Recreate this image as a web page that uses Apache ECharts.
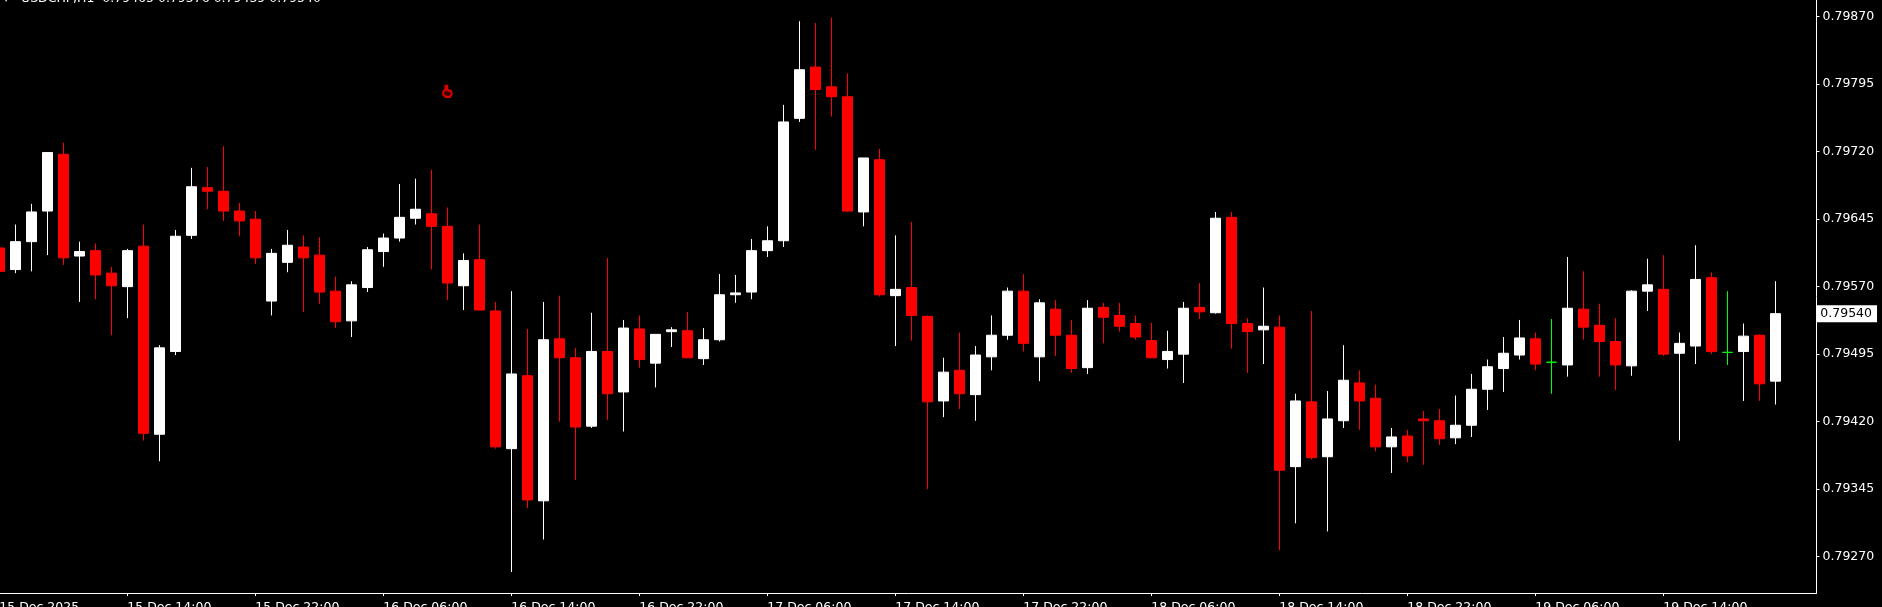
<!DOCTYPE html>
<html><head><meta charset="utf-8">
<style>html,body{margin:0;padding:0;background:#000;overflow:hidden}#c{width:1882px;height:607px}</style>
<script src="https://cdn.jsdelivr.net/npm/echarts@6/dist/echarts.min.js"></script>
</head><body><div id="c"></div>
<script>
// Prices are in points (1 point = 0.00001)
const opens=[79613,79589,79620,79654,79717,79604,79610,79585,79570,79615,79406,79498,79627,79680,79676,79654,79645,79554,79597,79614,79605,79565,79532,79569,79609,79624,79646,79651,79637,79571,79600,79543,79390,79471,79332,79512,79491,79415,79498,79453,79523,79485,79520,79521,79490,79511,79561,79564,79610,79621,79757,79814,79792,79781,79653,79711,79560,79569,79537,79443,79477,79450,79492,79516,79565,79492,79545,79516,79480,79547,79538,79529,79510,79489,79495,79547,79541,79647,79529,79522,79525,79370,79442,79381,79421,79463,79446,79392,79404,79423,79421,79402,79416,79456,79479,79494,79512,79486,79483,79545,79527,79509,79482,79565,79567,79496,79504,79580,79497,79498,79516,79465];
const closes=[79587,79620,79653,79719,79602,79609,79583,79571,79610,79407,79502,79626,79681,79676,79654,79643,79602,79607,79616,79602,79564,79531,79572,79611,79624,79647,79656,79637,79574,79599,79544,79392,79473,79333,79511,79491,79414,79498,79451,79524,79489,79517,79522,79491,79511,79561,79563,79610,79621,79753,79811,79789,79781,79654,79713,79561,79567,79538,79442,79475,79451,79494,79516,79565,79507,79552,79516,79479,79546,79536,79526,79514,79491,79498,79546,79542,79646,79529,79520,79526,79366,79443,79380,79423,79466,79443,79392,79403,79382,79421,79401,79416,79456,79481,79496,79513,79484,79486,79546,79525,79509,79483,79565,79572,79495,79507,79578,79498,79497,79515,79462,79540];
const lows=[79585,79585,79587,79605,79594,79553,79556,79516,79535,79399,79376,79494,79623,79656,79643,79626,79595,79538,79586,79542,79551,79524,79514,79564,79592,79620,79639,79589,79555,79544,79544,79390,79253,79324,79289,79420,79355,79413,79422,79409,79480,79458,79503,79491,79483,79509,79552,79556,79603,79614,79753,79722,79759,79653,79637,79559,79504,79510,79345,79425,79434,79421,79477,79511,79498,79465,79493,79474,79473,79507,79520,79511,79491,79479,79463,79534,79540,79501,79474,79484,79277,79307,79378,79298,79413,79411,79387,79363,79375,79372,79394,79395,79403,79433,79453,79489,79477,79451,79470,79511,79470,79455,79471,79543,79493,79399,79484,79495,79483,79443,79443,79439];
const highs=[79616,79639,79662,79719,79730,79620,79618,79592,79612,79639,79505,79633,79702,79703,79726,79663,79654,79612,79633,79627,79625,79581,79576,79614,79629,79684,79690,79700,79658,79607,79639,79553,79565,79523,79553,79560,79502,79541,79602,79533,79538,79517,79525,79542,79524,79584,79583,79623,79637,79772,79865,79863,79869,79807,79713,79723,79627,79642,79538,79491,79519,79504,79538,79569,79584,79556,79555,79533,79555,79552,79552,79538,79530,79521,79553,79574,79653,79653,79535,79569,79538,79451,79543,79454,79505,79477,79461,79413,79411,79432,79434,79449,79473,79489,79514,79533,79519,79534,79603,79587,79551,79535,79566,79601,79605,79519,79616,79586,79565,79529,79517,79576];
const dojiBars=[97,108];
const priceTicks=[79870,79795,79720,79645,79570,79495,79420,79345,79270];
const lastPrice=79540;
const headerText='USDCHF,H1  0.79465 0.79576 0.79439 0.79540';
const days=['15 Dec','16 Dec','17 Dec','18 Dec','19 Dec'];
const firstHour=6, firstLabel='15 Dec 2025', tickEvery=8, paddingBars=2;
const handMark={bar:28,price:79787};

const categories=[];
for(let i=0;i<opens.length+paddingBars;i++){
  const h=i+firstHour; const d=days[Math.floor(h/24)]||''; const hh=String(h%24).padStart(2,'0');
  categories.push(i===0?firstLabel:d+' '+hh+':00');
}
const candles=opens.map((o,i)=>{
  const v=[o,closes[i],lows[i],highs[i]];
  return dojiBars.includes(i)
    ? {value:v,itemStyle:{color:'#00ff00',color0:'#00ff00',borderColor:'#00ff00',borderColor0:'#00ff00',borderColorDoji:'#00ff00'}}
    : {value:v};
});
const yMin=79229.6,yMax=79888.5;
const font='"DejaVu Sans"';
const fs=12.5;
const chart=echarts.init(document.getElementById('c'),null,{renderer:'canvas'});
chart.setOption({
  animation:false,backgroundColor:'#000',
  title:[
    {text:headerText,left:21,top:-8,padding:0,textStyle:{color:'#fff',fontFamily:font,fontSize:fs,fontWeight:'normal'}},
    {text:'▾',left:3,top:-8,padding:0,textStyle:{color:'#fff',fontFamily:font,fontSize:fs,fontWeight:'normal'}}
  ],
  grid:[{left:-8.67,top:0,width:1824,height:593,outerBoundsMode:'none'},{left:0,top:0,width:1816.5,height:593,outerBoundsMode:'none'}],
  xAxis:[
    {type:'category',gridIndex:0,data:categories,boundaryGap:true,
      axisLine:{show:false},splitLine:{show:false},
      axisTick:{show:true,alignWithLabel:true,length:3,interval:(i)=>i%tickEvery===0&&i>0&&i<opens.length,lineStyle:{color:'#fff'}},
      axisLabel:{show:true,interval:(i)=>i%tickEvery===0&&i<opens.length,color:'#fff',fontFamily:font,fontSize:fs,align:'left',margin:8,hideOverlap:false}},
    {type:'category',gridIndex:1,data:[''],axisLine:{show:true,lineStyle:{color:'#fff',width:1}},axisTick:{show:false},axisLabel:{show:false},splitLine:{show:false}}
  ],
  yAxis:[
    {type:'value',gridIndex:0,min:yMin,max:yMax,show:false,scale:true,splitLine:{show:false}},
    {type:'value',gridIndex:1,min:yMin,max:yMax,position:'right',scale:true,
      axisLine:{show:true,onZero:false,lineStyle:{color:'#fff',width:1}},
      axisTick:{show:true,length:3,customValues:priceTicks,lineStyle:{color:'#fff'}},
      splitLine:{show:false},
      axisLabel:{show:true,customValues:priceTicks,margin:6,padding:[2,0,0,0],color:'#fff',fontFamily:font,fontSize:fs,formatter:(v)=>(v/1e5).toFixed(5)}}
  ],
  series:[
    {type:'candlestick',xAxisIndex:0,yAxisIndex:0,barWidth:11,data:candles,clip:false,
      itemStyle:{color:'#ffffff',color0:'#ff0000',borderColor:'#ffffff',borderColor0:'#ff0000',borderWidth:1},
      markLine:{silent:true,symbol:'none',lineStyle:{color:'transparent',width:0},
        data:[{yAxis:lastPrice}],
        label:{show:true,position:'end',distance:[1,0],formatter:()=>(lastPrice/1e5).toFixed(5),color:'#000',backgroundColor:'#fff',opacity:1,
          fontFamily:font,fontSize:fs,padding:[2,5,2,4]}}},
    {type:'scatter',xAxisIndex:0,yAxisIndex:0,data:[[handMark.bar,handMark.price]],
      symbol:'path://M3 0 L5 0 L5 4 L9 5 L10 8 L8 11 L3 11 L0 8 L1 5 L3 4 Z',symbolSize:[9,11],
      itemStyle:{color:'#400000',borderColor:'#e00000',borderWidth:2,opacity:1}}
  ]
});
</script></body></html>
